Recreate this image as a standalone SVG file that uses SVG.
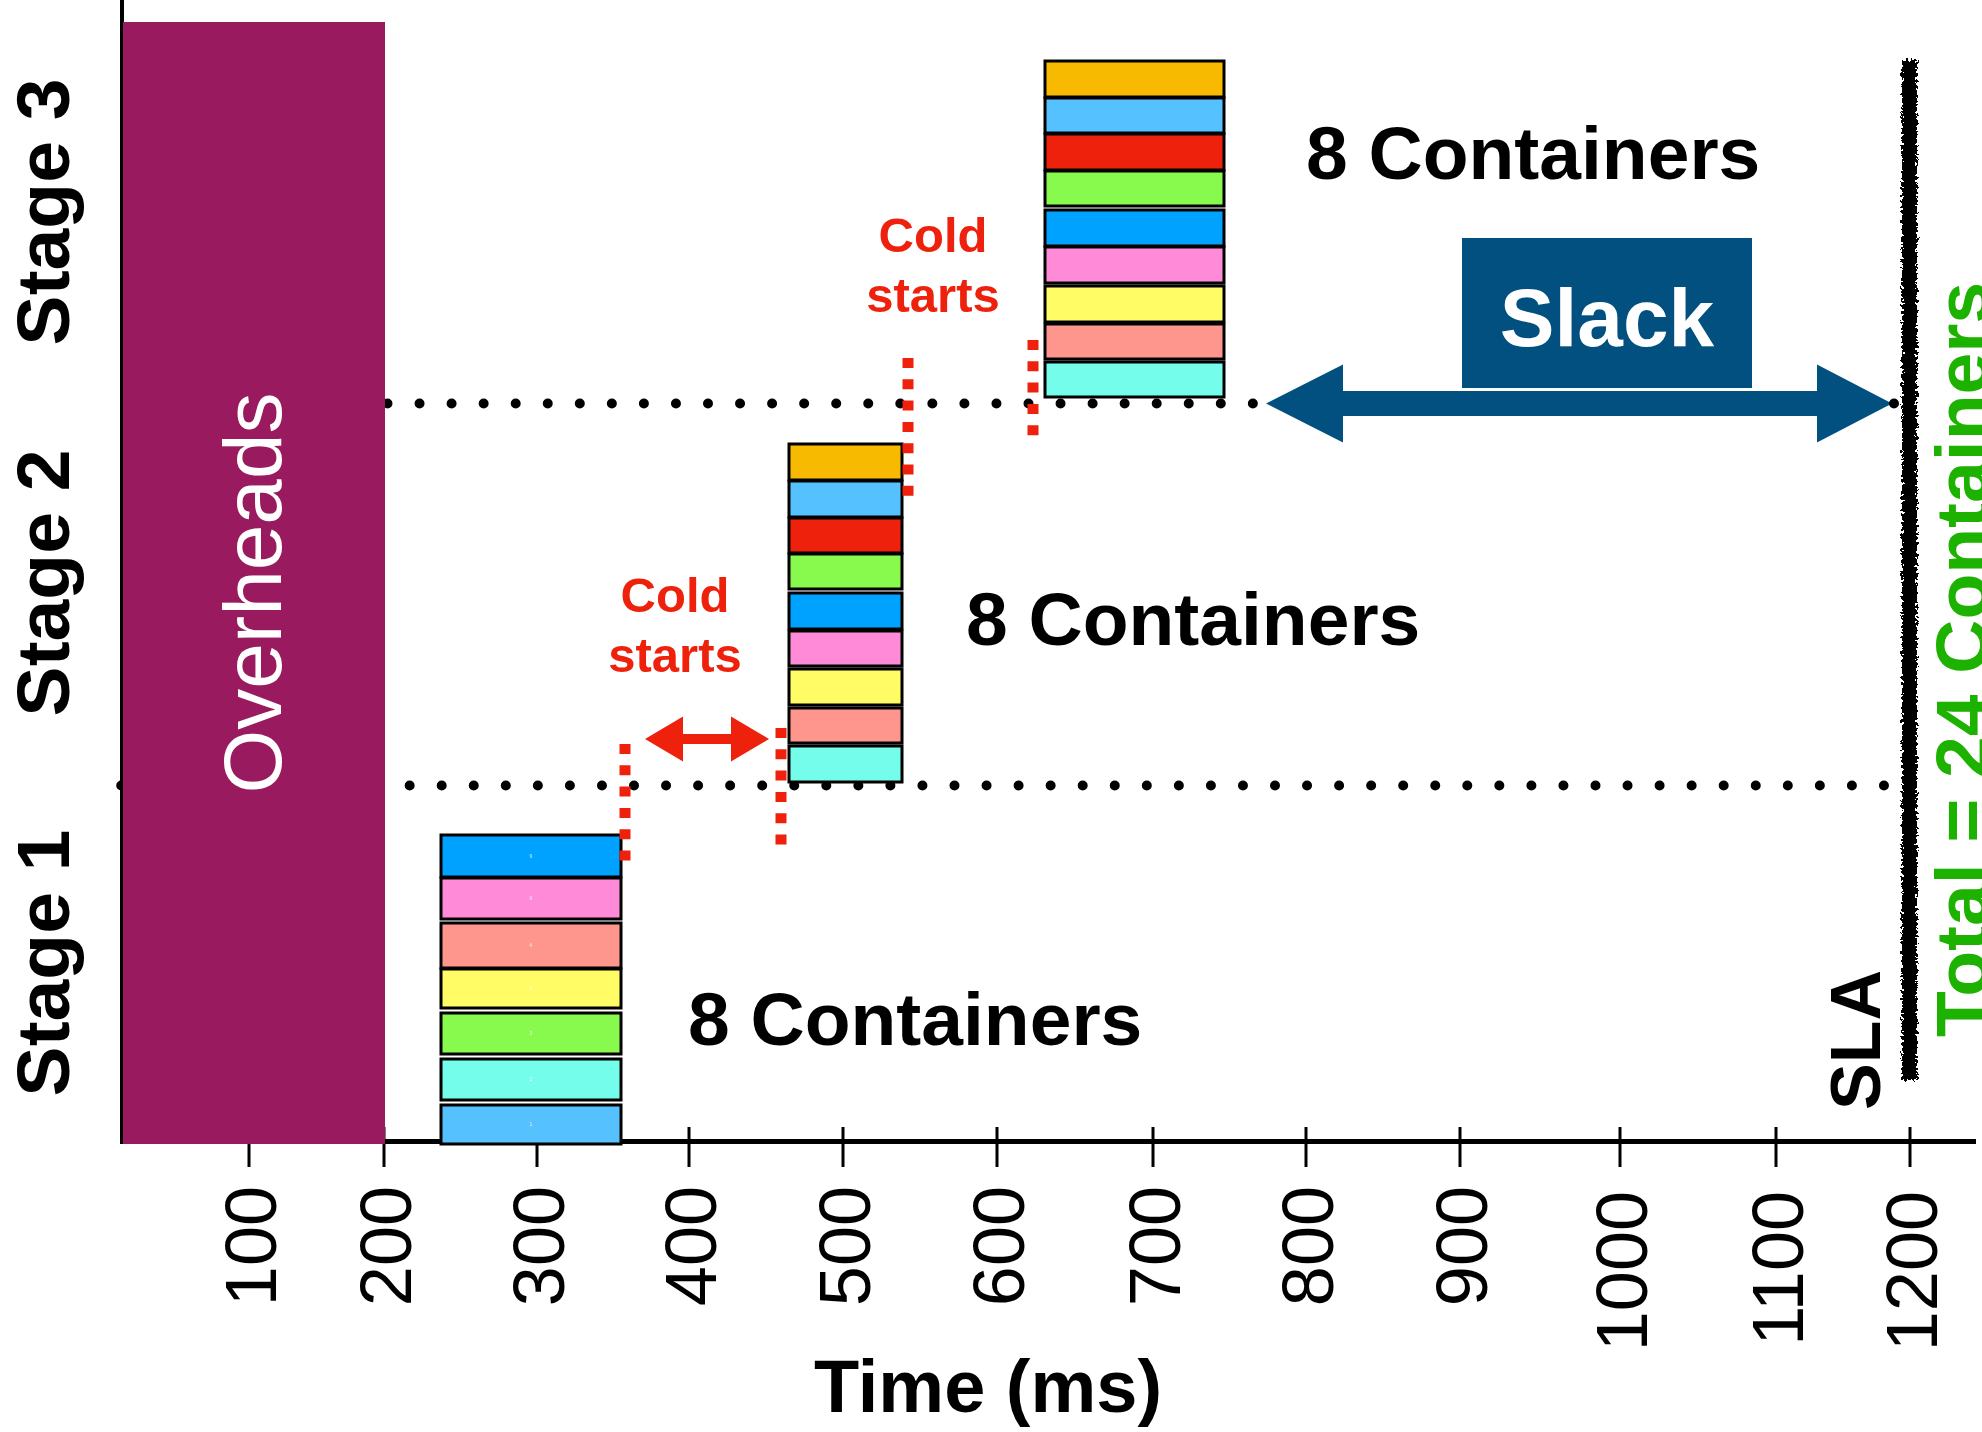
<svg xmlns="http://www.w3.org/2000/svg" width="1982" height="1432" viewBox="0 0 1982 1432">
  <style>
    text { font-family: "Liberation Sans", Arial, sans-serif; }
    .b { font-weight: bold; }
    .box { stroke: #000; stroke-width: 3; }
    .orange { fill: #F8BA00; }
    .lblue { fill: #56C1FF; }
    .red { fill: #EE220C; }
    .green { fill: #88FA4E; }
    .blue { fill: #00A2FF; }
    .pink { fill: #FF8AD8; }
    .yellow { fill: #FFFC66; }
    .salmon { fill: #FF968D; }
    .aqua { fill: #73FDEA; }
    .dots { stroke: #000; stroke-width: 10; stroke-linecap: round; stroke-dasharray: 0 32.05; fill: none; }
    .cold { stroke: #EE220C; stroke-width: 11; stroke-dasharray: 10 11.3; fill: none; }
    .tick { stroke: #000; stroke-width: 3; }
    .ticklbl { font-size: 72px; fill: #000; text-anchor: end; }
    .stage { font-size: 75px; font-weight: bold; text-anchor: middle; }
    .count { font-size: 75px; font-weight: bold; }
    .coldtxt { font-size: 49px; font-weight: bold; fill: #EE220C; text-anchor: middle; }
    .tiny { font-size: 5px; fill: #fff; text-anchor: middle; opacity: 0.8; }
  </style>
  <defs>
    <filter id="rough" x="-100%" y="-2%" width="300%" height="104%">
      <feTurbulence type="fractalNoise" baseFrequency="0.35" numOctaves="2" seed="7" result="noise"/>
      <feDisplacementMap in="SourceGraphic" in2="noise" scale="9" xChannelSelector="R" yChannelSelector="G"/>
    </filter>
  </defs>

  <rect width="1982" height="1432" fill="#fff"/>

  <!-- stage boundaries (dotted) -->
  <g id="connectors">
    <line class="dots" x1="121.2" y1="785.5" x2="1884" y2="785.5"/>
    <line class="dots" x1="387.5" y1="403.5" x2="1891.5" y2="403.5"/>
  </g>

  <!-- x axis ticks -->
  <g id="ticks">
    <line class="tick" x1="249" y1="1127" x2="249" y2="1167"/>
    <line class="tick" x1="384" y1="1127" x2="384" y2="1167"/>
    <line class="tick" x1="537" y1="1127" x2="537" y2="1167"/>
    <line class="tick" x1="689" y1="1127" x2="689" y2="1167"/>
    <line class="tick" x1="843" y1="1127" x2="843" y2="1167"/>
    <line class="tick" x1="997" y1="1127" x2="997" y2="1167"/>
    <line class="tick" x1="1153" y1="1127" x2="1153" y2="1167"/>
    <line class="tick" x1="1306" y1="1127" x2="1306" y2="1167"/>
    <line class="tick" x1="1460" y1="1127" x2="1460" y2="1167"/>
    <line class="tick" x1="1620" y1="1127" x2="1620" y2="1167"/>
    <line class="tick" x1="1776" y1="1127" x2="1776" y2="1167"/>
    <line class="tick" x1="1910" y1="1127" x2="1910" y2="1167"/>
  </g>

  <!-- axes -->
  <g id="axes">
    <line x1="122" y1="0" x2="122" y2="1144" stroke="#000" stroke-width="4"/>
    <line x1="120" y1="1141.5" x2="1976" y2="1141.5" stroke="#000" stroke-width="5"/>
  </g>

  <!-- overheads block -->
  <g id="overheads">
    <rect x="123" y="22" width="262" height="1122" fill="#991A5E"/>
    <text transform="translate(281,593) rotate(-90)" font-size="82" fill="#fff" text-anchor="middle">Overheads</text>
  </g>

  <!-- stage 1: 8 containers -->
  <g id="stage1">
    <rect class="box blue" x="441" y="835" width="180" height="42"/>
    <rect class="box pink" x="441" y="878" width="180" height="41"/>
    <rect class="box salmon" x="441" y="923" width="180" height="45"/>
    <rect class="box yellow" x="441" y="969" width="180" height="39"/>
    <rect class="box green" x="441" y="1013" width="180" height="41"/>
    <rect class="box aqua" x="441" y="1059" width="180" height="41"/>
    <rect class="box lblue" x="441" y="1105" width="180" height="39"/>
    <text class="tiny" x="531" y="858">9</text>
    <text class="tiny" x="531" y="900">6</text>
    <text class="tiny" x="531" y="947">4</text>
    <text class="tiny" x="531" y="990">3</text>
    <text class="tiny" x="531" y="1035">3</text>
    <text class="tiny" x="531" y="1081">2</text>
    <text class="tiny" x="531" y="1126">1</text>
    <text class="count" x="688" y="1045">8 Containers</text>
  </g>

  <!-- stage 2: 8 containers -->
  <g id="stage2">
    <rect class="box orange" x="789" y="444" width="113" height="36"/>
    <rect class="box lblue" x="789" y="481" width="113" height="36"/>
    <rect class="box red" x="789" y="518" width="113" height="35"/>
    <rect class="box green" x="789" y="554" width="113" height="35"/>
    <rect class="box blue" x="789" y="593" width="113" height="36"/>
    <rect class="box pink" x="789" y="631" width="113" height="35"/>
    <rect class="box yellow" x="789" y="669" width="113" height="36"/>
    <rect class="box salmon" x="789" y="708" width="113" height="35"/>
    <rect class="box aqua" x="789" y="746" width="113" height="36"/>
    <text class="count" x="966" y="645">8 Containers</text>
  </g>

  <!-- stage 3: 8 containers -->
  <g id="stage3">
    <rect class="box orange" x="1045" y="61" width="179" height="36"/>
    <rect class="box lblue" x="1045" y="98" width="179" height="35"/>
    <rect class="box red" x="1045" y="134" width="179" height="36"/>
    <rect class="box green" x="1045" y="171" width="179" height="35"/>
    <rect class="box blue" x="1045" y="210" width="179" height="36"/>
    <rect class="box pink" x="1045" y="247" width="179" height="36"/>
    <rect class="box yellow" x="1045" y="286" width="179" height="36"/>
    <rect class="box salmon" x="1045" y="324" width="179" height="35"/>
    <rect class="box aqua" x="1045" y="362" width="179" height="35"/>
    <text class="count" x="1306" y="179">8 Containers</text>
  </g>

  <!-- cold start markers -->
  <g id="cold-starts">
    <line class="cold" x1="625" y1="744" x2="625" y2="862"/>
    <line class="cold" x1="781" y1="728" x2="781" y2="846"/>
    <line class="cold" x1="908" y1="358" x2="908" y2="498"/>
    <line class="cold" x1="1033" y1="340" x2="1033" y2="437"/>
    <polygon fill="#EE220C" points="645,739 683,716.5 683,734 731,734 731,716.5 769,739 731,761.5 731,744 683,744 683,761.5"/>
    <text class="coldtxt" x="675" y="612">Cold</text>
    <text class="coldtxt" x="675" y="672">starts</text>
    <text class="coldtxt" x="933" y="252">Cold</text>
    <text class="coldtxt" x="933" y="312">starts</text>
  </g>

  <!-- slack -->
  <g id="slack">
    <rect x="1462" y="238" width="290" height="150" fill="#01507F"/>
    <text x="1607" y="346" font-size="82" font-weight="bold" fill="#fff" text-anchor="middle">Slack</text>
    <polygon fill="#01507F" points="1266,403.5 1343,364.5 1343,391 1817,391 1817,364.5 1892,403.5 1817,442.5 1817,416 1343,416 1343,442.5"/>
    <circle cx="1894" cy="403.5" r="5" fill="#000"/>
  </g>

  <!-- SLA deadline -->
  <g id="sla">
    <rect x="1902" y="60" width="15" height="1020" fill="#000" filter="url(#rough)"/>
    <text class="b" transform="translate(1880,1040) rotate(-90)" font-size="70" text-anchor="middle">SLA</text>
    <text class="b" transform="translate(1988,1037) rotate(-90)" font-size="75" fill="#1DB100">Total = 24 Containers</text>
  </g>

  <!-- stage labels -->
  <g id="stage-labels">
    <text class="stage" transform="translate(69,212) rotate(-90)">Stage 3</text>
    <text class="stage" transform="translate(69,583) rotate(-90)">Stage 2</text>
    <text class="stage" transform="translate(69,963) rotate(-90)">Stage 1</text>
  </g>

  <!-- x axis labels -->
  <g id="x-labels">
    <text class="ticklbl" transform="translate(276,1186) rotate(-90)">100</text>
    <text class="ticklbl" transform="translate(411,1186) rotate(-90)">200</text>
    <text class="ticklbl" transform="translate(564,1186) rotate(-90)">300</text>
    <text class="ticklbl" transform="translate(716,1186) rotate(-90)">400</text>
    <text class="ticklbl" transform="translate(870,1186) rotate(-90)">500</text>
    <text class="ticklbl" transform="translate(1024,1186) rotate(-90)">600</text>
    <text class="ticklbl" transform="translate(1180,1186) rotate(-90)">700</text>
    <text class="ticklbl" transform="translate(1333,1186) rotate(-90)">800</text>
    <text class="ticklbl" transform="translate(1487,1186) rotate(-90)">900</text>
    <text class="ticklbl" transform="translate(1647,1191) rotate(-90)">1000</text>
    <text class="ticklbl" transform="translate(1803,1191) rotate(-90)">1100</text>
    <text class="ticklbl" transform="translate(1937,1191) rotate(-90)">1200</text>
    <text x="988" y="1412" font-size="74" font-weight="bold" text-anchor="middle">Time (ms)</text>
  </g>
</svg>
